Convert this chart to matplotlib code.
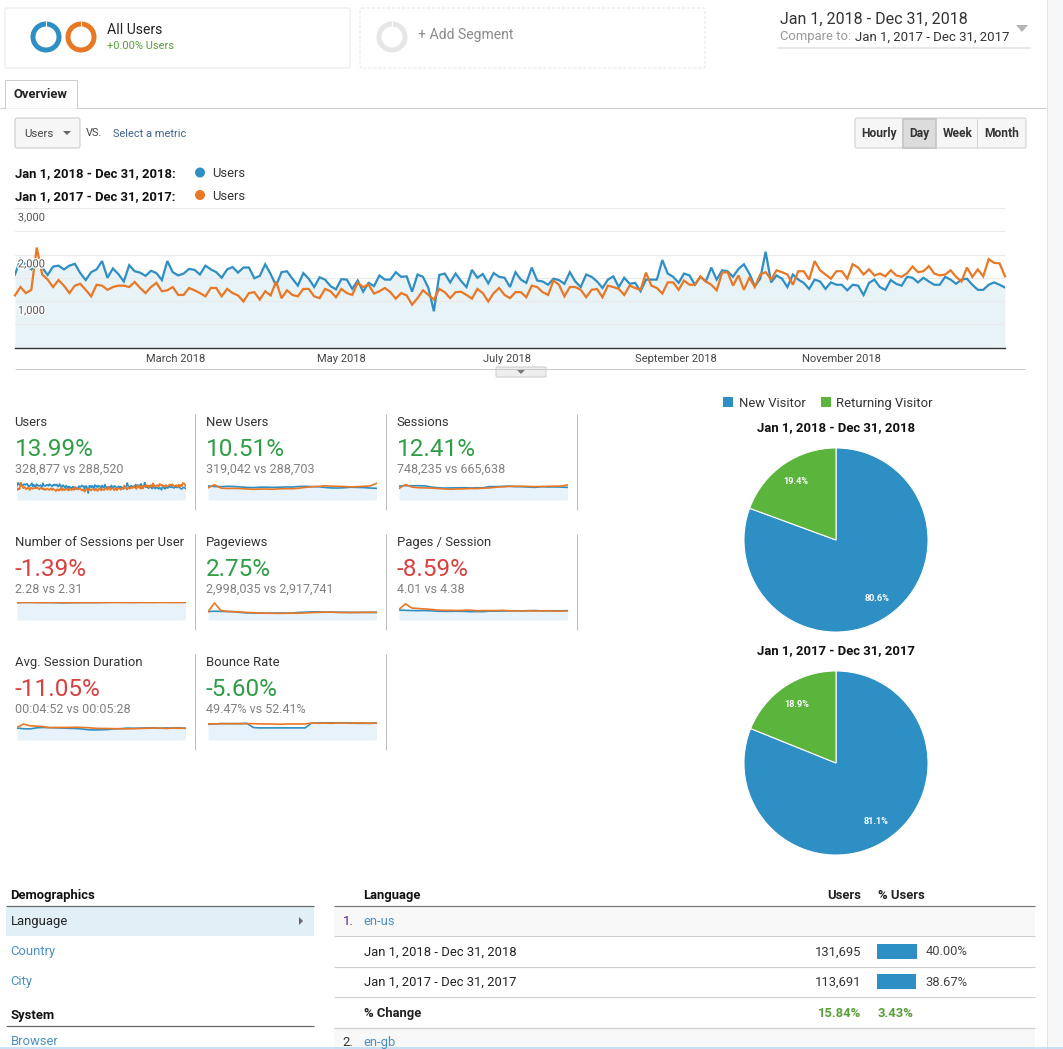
import numpy as np
import matplotlib
matplotlib.use("Agg")
import matplotlib.pyplot as plt
from matplotlib.patches import Rectangle, FancyBboxPatch, Wedge, Polygon, Circle
import matplotlib.patheffects as pe

plt.rcParams['font.family'] = ['Roboto', 'DejaVu Sans']

W, H = 1063, 1049
BLUE = '#2f8fc4'
ORANGE = '#e87825'
FILL = '#e8f3f8'

# daily users, read every second day
users_2018 = [1570, 1900, 1780, 1680, 1830, 1720, 1560, 1740, 1760, 1680, 1760, 1800, 1600, 1450, 1620, 1680,
              1860, 1500, 1700, 1580, 1420, 1770, 1640, 1610, 1540, 1650, 1600, 1450, 1860, 1620, 1550, 1590,
              1690, 1670, 1570, 1760, 1680, 1620, 1500, 1680, 1730, 1610, 1720, 1720, 1490, 1540, 1790, 1580,
              1330, 1620, 1640, 1480, 1330, 1600, 1480, 1300, 1510, 1460, 1320, 1250, 1470, 1460, 1260, 1440,
              1200, 1390, 1320, 1550, 1460, 1460, 1620, 1520, 1530, 1200, 1570, 1520, 1280, 780, 1560, 1590,
              1400, 1590, 1430, 1300, 1670, 1500, 1580, 1380, 1600, 1520, 1500, 1300, 1620, 1460, 1390, 1720,
              1440, 1420, 1350, 1480, 1450, 1370, 1620, 1420, 1300, 1570, 1520, 1420, 1280, 1460, 1530, 1300,
              1500, 1370, 1390, 1210, 1460, 1460, 1460, 1880, 1590, 1520, 1390, 1590, 1550, 1350, 1520, 1420,
              1720, 1460, 1660, 1640, 1520, 1690, 1790, 1590, 1320, 1480, 2060, 1400, 1550, 1480, 1300, 1570,
              1460, 1390, 1260, 1460, 1420, 1260, 1400, 1350, 1350, 1230, 1350, 1330, 1130, 1390, 1460, 1300,
              1240, 1450, 1370, 1330, 1520, 1500, 1400, 1500, 1420, 1350, 1350, 1520, 1460, 1370, 1460, 1480,
              1350, 1240, 1240, 1350, 1400, 1350, 1290]
users_2017 = [1120, 1300, 1170, 1240, 2150, 1570, 1460, 1300, 1450, 1330, 1170, 1330, 1370, 1240, 1100, 1350,
              1330, 1240, 1300, 1330, 1330, 1300, 1410, 1280, 1170, 1300, 1390, 1210, 1230, 1300, 1130, 1130,
              1280, 1230, 1170, 1100, 1280, 1280, 1100, 1260, 1170, 1120, 990, 1170, 1190, 1030, 1210, 1120,
              1420, 1060, 1230, 1130, 1100, 1260, 1260, 1100, 1060, 1260, 1210, 1080, 1260, 1170, 1130, 1390,
              1300, 1350, 1160, 1210, 1280, 1190, 1050, 1170, 1120, 920, 1060, 1230, 1130, 1030, 1260, 1190,
              1060, 1190, 1200, 1130, 1050, 1260, 1170, 990, 1170, 1280, 1130, 1060, 1190, 1190, 1080, 1330,
              1300, 1190, 1130, 1440, 1350, 1100, 1300, 1300, 1240, 1080, 1240, 1260, 1080, 1330, 1300, 1260,
              1130, 1330, 1280, 1240, 1610, 1330, 1280, 1160, 1400, 1400, 1240, 1440, 1350, 1350, 1530, 1420,
              1350, 1230, 1610, 1620, 1330, 1550, 1240, 1500, 1300, 1570, 1620, 1460, 1660, 1620, 1570, 1350,
              1640, 1640, 1460, 1860, 1660, 1570, 1480, 1640, 1640, 1480, 1790, 1720, 1570, 1680, 1550, 1590,
              1530, 1660, 1550, 1520, 1600, 1740, 1620, 1640, 1750, 1590, 1550, 1570, 1660, 1520, 1420, 1720,
              1520, 1680, 1530, 1900, 1820, 1810, 1530]
month_days = [59, 120, 181, 243, 304]
month_labels = ['March 2018', 'May 2018', 'July 2018', 'September 2018', 'November 2018']

# small panels, read every two weeks
new_users_a = [1560, 1500, 1480, 1520, 1500, 1450, 1400, 1380, 1420, 1430, 1400, 1420, 1450, 1440, 1500, 1520, 1480, 1480, 1400, 1340, 1330, 1360, 1420, 1400, 1380, 1330, 1300]
new_users_b = [1350, 1700, 1320, 1280, 1290, 1270, 1230, 1190, 1210, 1220, 1190, 1240, 1260, 1250, 1310, 1400, 1480, 1500, 1580, 1540, 1520, 1500, 1460, 1480, 1520, 1560, 1850]
sessions_a = [1500, 1560, 1540, 1550, 1530, 1400, 1330, 1290, 1310, 1320, 1330, 1300, 1330, 1330, 1460, 1450, 1480, 1500, 1450, 1440, 1400, 1370, 1440, 1410, 1420, 1400, 1370]
sessions_b = [1250, 1680, 1400, 1330, 1310, 1290, 1240, 1200, 1160, 1200, 1210, 1240, 1240, 1280, 1310, 1380, 1430, 1470, 1480, 1490, 1470, 1450, 1460, 1480, 1500, 1500, 1630]
spu_a = [2.26, 2.27, 2.27, 2.26, 2.26, 2.25, 2.24, 2.21, 2.23, 2.24, 2.25, 2.26, 2.26, 2.27, 2.28, 2.29, 2.29, 2.28, 2.28, 2.29, 2.29, 2.29, 2.30, 2.30, 2.30, 2.29, 2.29]
spu_b = [2.22, 2.27, 2.27, 2.26, 2.25, 2.26, 2.25, 2.24, 2.24, 2.24, 2.25, 2.25, 2.24, 2.25, 2.26, 2.26, 2.26, 2.26, 2.25, 2.26, 2.26, 2.25, 2.26, 2.26, 2.25, 2.26, 2.26]
pageviews_a = [1800, 1850, 1820, 1790, 1780, 1600, 1500, 1480, 1450, 1450, 1470, 1480, 1450, 1470, 1600, 1640, 1720, 1720, 1640, 1660, 1640, 1640, 1620, 1600, 1620, 1600, 1580]
pageviews_b = [1700, 3600, 2000, 1800, 1720, 1700, 1600, 1550, 1450, 1430, 1420, 1400, 1420, 1440, 1440, 1500, 1560, 1620, 1650, 1680, 1600, 1580, 1560, 1600, 1600, 1620, 1650]
pps_a = [4.4, 4.3, 4.2, 4.15, 4.2, 4.1, 3.9, 3.85, 3.85, 3.9, 3.85, 3.7, 3.75, 3.7, 3.95, 3.95, 4.0, 4.05, 4.1, 4.05, 4.15, 4.2, 4.05, 4.1, 4.1, 4.1, 4.15]
pps_b = [4.7, 7.2, 5.3, 5.1, 4.9, 4.7, 4.4, 4.3, 4.3, 4.2, 4.3, 4.4, 4.1, 4.2, 4.2, 4.2, 4.3, 4.1, 4.1, 4.0, 4.1, 4.0, 4.1, 4.1, 3.95, 4.0, 4.05]
duration_a = [285, 270, 265, 290, 300, 295, 290, 285, 280, 275, 265, 245, 240, 245, 250, 265, 270, 285, 280, 285, 290, 290, 280, 290, 285, 290, 280]
duration_b = [300, 380, 340, 330, 320, 295, 300, 300, 300, 305, 300, 295, 280, 275, 275, 270, 270, 265, 270, 275, 280, 285, 285, 275, 285, 280, 280]
bounce_a = [48, 49, 50, 50, 50, 50, 51, 38, 37, 37, 37, 37, 37, 37, 37, 37, 52, 52, 53, 53, 53, 53, 52, 51, 51, 51, 52]
bounce_b = [49, 49, 50, 50, 50, 50, 50, 50, 49, 49, 49, 48, 49, 49, 49, 49, 52, 51, 52, 51, 52, 52, 51, 52, 52, 51, 52]

panel_names = ['Users', 'New Users', 'Sessions', 'Number of Sessions per User', 'Pageviews', 'Pages / Session',
               'Avg. Session Duration', 'Bounce Rate']
panel_pct = ['13.99%', '10.51%', '12.41%', '-1.39%', '2.75%', '-8.59%', '-11.05%', '-5.60%']
panel_good = [True, True, True, False, True, False, False, True]
panel_vs = ['328,877 vs 288,520', '319,042 vs 288,703', '748,235 vs 665,638', '2.28 vs 2.31',
            '2,998,035 vs 2,917,741', '4.01 vs 4.38', '00:04:52 vs 00:05:28', '49.47% vs 52.41%']
panel_max = [2000, 2000, 1950, 2.32, 3800, 8.0, 430, 55]

pie_labels = ['New Visitor', 'Returning Visitor']
pie_colors = ['#2d8fc4', '#5bb43c']
pie_2018 = [80.6, 19.4]
pie_2017 = [81.1, 18.9]

side_items = ['Country', 'City']
table_rows = [('Jan 1, 2018 - Dec 31, 2018', '131,695', '40.00%', 40.00),
              ('Jan 1, 2017 - Dec 31, 2017', '113,691', '38.67%', 38.67)]


fig = plt.figure(figsize=(W / 100, H / 100), dpi=100, facecolor='white')
bg = fig.add_axes([0, 0, 1, 1])
bg.set_xlim(0, W)
bg.set_ylim(H, 0)
bg.axis('off')


def px_axes(x0, y0, x1, y1):
    ax = fig.add_axes([x0 / W, 1 - y1 / H, (x1 - x0) / W, (y1 - y0) / H])
    ax.patch.set_alpha(0)
    return ax


def txt(x, y, s, size=13, color='#222222', weight='normal', ha='left', **kw):
    # size given in page pixels
    bg.text(x - 0.4, y + 0.8, s, fontsize=size * 0.72, color=color, fontweight=weight, ha=ha, va='center', **kw)


def line(x0, y0, x1, y1, color='#cccccc', lw=1, **kw):
    bg.plot([x0, x1], [y0, y1], color=color, lw=lw * 0.72, solid_capstyle='butt', **kw)


def box(x0, y0, x1, y1, fc='white', ec='#dddddd', lw=1, ls='-', r=2):
    bg.add_patch(FancyBboxPatch((x0 + r, y0 + r), x1 - x0 - 2 * r, y1 - y0 - 2 * r, boxstyle='round,pad=%d' % r,
                                fc=fc, ec=ec, lw=lw * 0.72, ls=ls))


def donut(cx, cy, color):
    bg.add_patch(Wedge((cx, cy), 15.5, -90, 270, width=5, fc=color, ec='none'))
    line(cx, cy - 16, cx, cy - 10.5, color='white', lw=1)


# right gutter
bg.add_patch(Rectangle((1047, 0), 16, H, fc='#f6f7f9', ec='none'))
line(1046.5, 0, 1046.5, H, color='#e4e4e4')

# segments
box(5, 8, 350, 68, ec='#e6e6e6')
box(360, 8, 705, 68, ec='#e4e4e4', ls=(0, (3, 2)))
donut(46, 37, BLUE)
donut(81, 37, ORANGE)
donut(392, 37, '#e6e6e6')
txt(107, 29, 'All Users', 14, '#222222')
txt(107, 45, '+0.00% Users', 11, '#5a9e3a')
txt(418, 34, '+ Add Segment', 14, '#8a8a8a')

# date range
txt(780, 19, 'Jan 1, 2018 - Dec 31, 2018', 16, '#333333')
txt(780, 36, 'Compare to:', 13, '#999999')
txt(855, 36, 'Jan 1, 2017 - Dec 31, 2017', 13.3, '#333333')
line(777, 47.5, 1031, 47.5, color='#e8e8e8', lw=2)
bg.add_patch(Polygon([[1016, 25], [1028, 25], [1022, 32]], fc='#b5b5b5', ec='none'))

# tab
line(0, 107.5, 1046, 107.5)
bg.add_patch(Rectangle((5, 80), 72, 27.5, fc='white', ec='#cccccc', lw=0.72))
line(5.5, 107.5, 76.5, 107.5, color='white', lw=1.5)
txt(14, 93.5, 'Overview', 13, '#222222', 'bold')

# metric selector
box(15, 118, 80, 148, fc='#f6f6f6', ec='#c8c8c8')
txt(25, 133, 'Users', 11.5, '#444444')
bg.add_patch(Polygon([[63, 131], [71, 131], [67, 135]], fc='#666666', ec='none'))
txt(86, 132, 'VS.', 11, '#444444')
txt(113, 133, 'Select a metric', 11, '#3d5f8f')

# hourly/day/week/month
box(855, 118, 1026, 148, fc='#f6f6f6', ec='#cfcfcf')
bg.add_patch(Rectangle((903, 119), 33, 29, fc='#dcdcdc', ec='#c4c4c4', lw=1.2))
for xd in (976.5,):
    line(xd, 119, xd, 148, color='#d4d4d4')
for xc, s in zip((879, 919.5, 958, 1002), ('Hourly', 'Day', 'Week', 'Month')):
    txt(xc, 133, s, 12, '#333333', 'bold', ha='center')

# chart legend
txt(15, 173, 'Jan 1, 2018 - Dec 31, 2018:', 13, '#111111', 'bold')
txt(15, 195.5, 'Jan 1, 2017 - Dec 31, 2017:', 13, '#111111', 'bold')
bg.add_patch(Circle((200, 172.5), 5, fc=BLUE, ec='none'))
bg.add_patch(Circle((200, 195), 5, fc=ORANGE, ec='none'))
txt(213, 173, 'Users', 13, '#333333')
txt(213, 195.5, 'Users', 13, '#333333')

# main line chart
ax = px_axes(15, 208, 1005, 347.5)
days = np.arange(len(users_2018)) * 2
ax.fill_between(days, users_2018, color=FILL, lw=0, zorder=1)
ax.set_xlim(0, 364)
ax.set_ylim(0, 3000)
ax.set_yticks(np.arange(0, 3001, 500))
ax.set_yticklabels([])
ax.grid(axis='y', color='#e9e9e9', lw=0.8, zorder=2)
ax.set_axisbelow(False)
ax.plot(days, users_2018, color=BLUE, lw=1.6, zorder=3, solid_joinstyle='miter')
ax.plot(np.arange(len(users_2017)) * 2, users_2017, color=ORANGE, lw=1.6, zorder=4, solid_joinstyle='miter', clip_on=False)
ax.set_xticks(month_days)
ax.set_xticklabels(month_labels, fontsize=8, color='#444444')
ax.tick_params(length=0, pad=5)
for s in ('top', 'left', 'right'):
    ax.spines[s].set_visible(False)
ax.spines['bottom'].set_color('#333333')
ax.spines['bottom'].set_linewidth(1)
for v, lab in ((3000, '3,000'), (2000, '2,000'), (1000, '1,000')):
    ax.annotate(lab, (0, v), xytext=(2, -3.5), textcoords='offset points', fontsize=8, color='#555555', va='top',
                zorder=6, path_effects=[pe.withStroke(linewidth=2, foreground='white')])

# collapse handle
line(15, 368.5, 1025, 368.5, color='#c8c8c8')
box(496, 367, 546, 377, fc='#eeeeee', ec='#cccccc', r=1)
bg.add_patch(Polygon([[517, 370], [525, 370], [521, 374]], fc='#777777', ec='none'))

# metric panels
spark_data = [(users_2018, users_2017), (new_users_a, new_users_b), (sessions_a, sessions_b), (spu_a, spu_b),
              (pageviews_a, pageviews_b), (pps_a, pps_b), (duration_a, duration_b), (bounce_a, bounce_b)]
col_x = [15, 206, 397]
row_y = [414, 534, 654]
for i, name in enumerate(panel_names):
    cx = col_x[i % 3]
    ry = row_y[i // 3]
    txt(cx, ry + 7.5, name, 13, '#333333')
    txt(cx, ry + 34.5, panel_pct[i], 24.3, '#2e9e45' if panel_good[i] else '#d83f3f')
    txt(cx, ry + 54.5, panel_vs[i], 12.5, '#808080')
    a, b = spark_data[i]
    sp = px_axes(cx + 2, ry + 68, cx + 170.5, ry + 86)
    xs = np.arange(len(a))
    sp.fill_between(xs, a, color='#e8f2fa', lw=0)
    sp.plot(xs, a, color=BLUE, lw=1.2)
    sp.plot(np.linspace(0, len(a) - 1, len(b)), b, color=ORANGE, lw=1.2)
    sp.set_xlim(0, len(a) - 1)
    sp.set_ylim(0, panel_max[i])
    sp.axis('off')
    line(cx + 180, ry, cx + 180, ry + 96, color='#bbbbbb')

# pies
bg.add_patch(Rectangle((723, 397), 10, 10, fc=pie_colors[0], ec='none'))
bg.add_patch(Rectangle((821, 397), 10, 10, fc=pie_colors[1], ec='none'))
txt(739, 402.5, pie_labels[0], 13, '#333333')
txt(836, 402.5, pie_labels[1], 13, '#333333')
for vals, title, cy, ty in ((pie_2018, 'Jan 1, 2018 - Dec 31, 2018', 540, 427),
                            (pie_2017, 'Jan 1, 2017 - Dec 31, 2017', 763, 650)):
    txt(836.4, ty, title, 13.1, '#111111', 'bold', ha='center')
    pa = px_axes(836 - 92.5, cy - 92.5, 836 + 92.5, cy + 92.5)
    pa.pie(vals, colors=pie_colors, startangle=90, counterclock=False, radius=1, autopct='%.1f%%', pctdistance=0.77,
           wedgeprops=dict(edgecolor='white', linewidth=0.8),
           textprops=dict(color='white', fontsize=6.6, fontweight='bold'))
    pa.set_xlim(-1.005, 1.005)
    pa.set_ylim(-1.005, 1.005)

# side nav
txt(11, 895, 'Demographics', 13, '#111111', 'bold')
line(6, 906, 314, 906, color='#666666', lw=1.2)
bg.add_patch(Rectangle((6, 907), 308, 29, fc='#e1eff6', ec='none'))
txt(11, 921, 'Language', 13, '#222222')
bg.add_patch(Polygon([[299, 917], [303, 921], [299, 925]], fc='#666666', ec='none'))
for yy, s in zip((951, 981), side_items):
    txt(11, yy, s, 13, '#4a90c8')
txt(11, 1015, 'System', 13, '#111111', 'bold')
line(6, 1026, 314, 1026, color='#666666', lw=1.2)
txt(11, 1041, 'Browser', 13, '#4a90c8')

# table
txt(364, 895, 'Language', 13, '#111111', 'bold')
txt(862, 895, 'Users', 13, '#222222', 'bold', ha='right')
txt(878, 895, '% Users', 13, '#222222', 'bold')
line(334, 906, 1035, 906, color='#777777', lw=1.2)
bg.add_patch(Rectangle((334, 907), 701, 28, fc='#f8f8f8', ec='none'))
bg.add_patch(Rectangle((334, 1028), 701, 21, fc='#f8f8f8', ec='none'))
txt(343, 921, '1.', 13, '#551a8b')
txt(364, 921, 'en-us', 13, '#4a90c8')
for yy in (935.5, 966.5, 997, 1027.5):
    line(334, yy, 1035, yy, color='#d0d0d0', lw=1.2)
for yy, (lab, n, pct, share) in zip((951, 981.5), table_rows):
    txt(364, yy, lab, 13, '#222222')
    txt(862, yy, n, 13, '#333333', ha='right')
    bg.add_patch(Rectangle((877, yy - 7.5), share, 15, fc='#2d8fc4', ec='none'))
    txt(926, yy, pct, 13, '#444444')
txt(364, 1012.5, '% Change', 13, '#222222', 'bold')
txt(862, 1012.5, '15.84%', 13, '#5a9e3a', 'bold', ha='right')
txt(878, 1012.5, '3.43%', 13, '#5a9e3a', 'bold')
txt(343, 1042, '2.', 13, '#333333')
txt(364, 1042, 'en-gb', 13, '#4a90c8')
line(0, 1048, W, 1048, color='#b9d9f2', lw=1.5)

fig.savefig('out.png', dpi=100)
